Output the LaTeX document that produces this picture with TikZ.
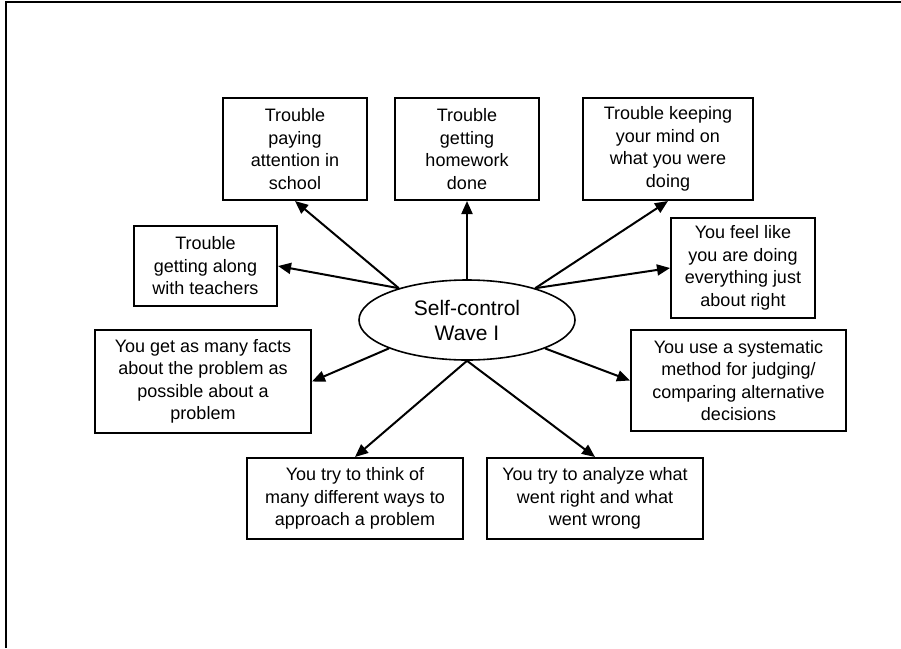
\documentclass[tikz,border=0pt]{standalone}
\usepackage{fontspec}
\setmainfont{Liberation Sans}
\usetikzlibrary{arrows.meta,shapes.geometric}
\tikzset{
  itembox/.style={draw, line width=2pt, align=center, inner sep=0pt,
                  minimum width=#1, minimum height=102pt,
                  font=\fontsize{18pt}{22.5pt}\selectfont},
  hub/.style={draw, ellipse, line width=1.6pt, inner sep=0pt, align=center,
              minimum width=216pt, minimum height=80pt,
              font=\fontsize{21pt}{25pt}\selectfont},
  spoke/.style={-{Triangle[length=13pt,width=11pt]}, line width=2pt},
  frame/.style={line width=1.5pt},
}
\begin{document}
\begin{tikzpicture}[x=1pt,y=-1pt]
  \useasboundingbox (0,0) rectangle (901,648);
  \draw[frame] (6,648) -- (6,2) coordinate (fcorner) -- (901,2);

  \node[hub] (hub) at (467,320) {Self-control\\Wave I};

  % top row
  \node[itembox=144pt] (b1) at (295,149) {Trouble\\paying\\attention in\\school};
  \node[itembox=144pt] (b2) at (467,149) {Trouble\\getting\\homework\\done};
  \node[itembox=170pt] (b3) at (668,149) {Trouble keeping\\your mind on\\what you were\\doing};
  % sides
  \node[itembox=143pt, minimum height=80pt] (b4) at (205.5,266) {Trouble\\getting along\\with teachers};
  \node[itembox=144pt, minimum height=100pt] (b5) at (743,268) {You feel like\\you are doing\\everything just\\about right};
  \node[itembox=216pt, minimum height=103pt] (b6) at (203,381.5) {You get as many facts\\about the problem as\\possible about a\\problem};
  \node[itembox=215pt, minimum height=101pt] (b7) at (738.5,380.5) {You use a systematic\\method for judging/\\comparing alternative\\decisions};
  % bottom row
  \node[itembox=216pt, minimum height=81pt] (b8) at (355,498.5) {You try to think of\\many different ways to\\approach a problem};
  \node[itembox=216pt, minimum height=81pt] (b9) at (595,498.5) {You try to analyze what\\went right and what\\went wrong};

  \foreach \a/\t in {155/b1.south, 90/b2.south, 25/b3.south, 155/b4.east, 25/b5.west,
                     200/b6.east, 340/b7.west, 270/b8.north, 270/b9.north}
    {\draw[spoke] (hub.\a) -- (\t);}
\end{tikzpicture}
\end{document}
